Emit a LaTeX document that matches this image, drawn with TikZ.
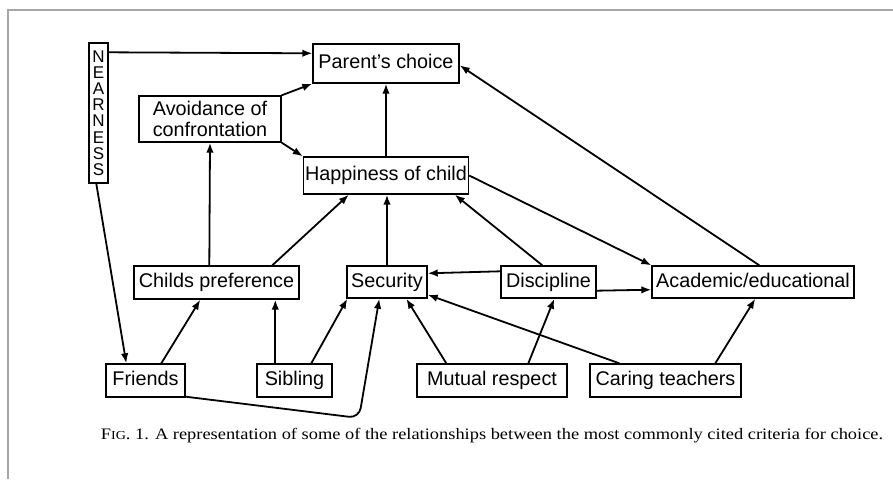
\documentclass[tikz,border=0pt]{standalone}
\usepackage{fontspec}
\setmainfont{Liberation Serif}
\newfontfamily\diagfont{Liberation Sans}
\usetikzlibrary{arrows.meta,calc}

\begin{document}
\begin{tikzpicture}[x=1pt,y=-1pt,
  box/.style={draw, line width=1.4pt, inner sep=0pt, align=center,
    font=\diagfont\fontsize{19.8}{21}\selectfont},
  oneline/.style={box, text height=14pt, text depth=4pt},
  link/.style={line width=1.8pt, -{Latex[length=10pt,width=7.5pt]}},
  frameline/.style={draw=black!35, line width=2pt}]
\useasboundingbox (0,0) rectangle (893,479);
\draw[frameline] (8,479) -- (8,10) -- (893,10);

% criteria boxes
\node[box, minimum width=19pt, minimum height=140pt,
  font=\diagfont\fontsize{17}{16.2}\selectfont] (near) at (98.5,113)
  {N\\E\\A\\R\\N\\E\\S\\S};
\node[oneline, minimum width=146pt, minimum height=39pt] (pc) at (386,63.5) {Parent’s choice};
\node[box, minimum width=142pt, minimum height=46pt] (av) at (210,119) {Avoidance of\\confrontation};
\node[oneline, minimum width=165pt, minimum height=37pt] (hc) at (386,175.5) {Happiness of child};
\node[oneline, minimum width=165pt, minimum height=33pt] (cp) at (216.5,282.5) {Childs preference};
\node[oneline, minimum width=80pt, minimum height=32pt] (sec) at (387,282) {Security};
\node[oneline, minimum width=95pt, minimum height=32pt] (dis) at (548.5,282) {Discipline};
\node[oneline, minimum width=202pt, minimum height=32pt] (ac) at (753,282) {Academic/educational};
\node[oneline, minimum width=79pt, minimum height=33pt] (fr) at (145.5,380.5) {Friends};
\node[oneline, minimum width=75pt, minimum height=33pt] (sib) at (294.5,380.5) {Sibling};
\node[oneline, minimum width=150pt, minimum height=33pt] (mr) at (492,380.5) {Mutual respect};
\node[oneline, minimum width=151pt, minimum height=33pt] (ct) at (665.5,380.5) {Caring teachers};

% influences
\draw[link] ($(near.north east)+(0,10)$) -- ($(pc.north west)+(0,10)$);
\draw[link] (av.north east) -- (pc.south west);
\draw[link] (av.south east) -- (hc.north west);
\draw[link] (hc.north) -- (hc.north |- pc.south);
\draw[link] ($(cp.north west)+(76,0)$) -- (av.south);
\draw[link] ($(cp.north west)+(139,0)$) -- ($(hc.south west)+(46,0)$);
\draw[link] (sec.north) -- (sec.north |- hc.south);
\draw[link] ($(dis.north west)+(42,0)$) -- ($(hc.south west)+(152,0)$);
\draw[link] (hc.east) -- (ac.north west);
\draw[link] ($(ac.north west)+(108,0)$) -- ($(pc.north east)+(0,22)$);
\draw[link] ($(dis.north west)+(0,6)$) -- ($(sec.north east)+(0,8)$);
\draw[link] ($(dis.south east)+(0,-8)$) -- ($(ac.south west)+(0,-9)$);
\draw[link] ($(ct.north west)+(30,0)$) -- ($(sec.south east)+(0,-4)$);
\draw[link] ($(ct.north west)+(126,0)$) -- ($(ac.south west)+(104,0)$);
\draw[link] ($(mr.north west)+(30,0)$) -- ($(sec.south west)+(60,0)$);
\draw[link] ($(mr.north west)+(112,0)$) -- ($(dis.south west)+(54,0)$);
\draw[link] ($(sib.north west)+(55,0)$) -- ($(sec.south west)+(1,0)$);
\draw[link] ($(sib.north west)+(19,0)$) -- ($(cp.south west)+(142,0)$);
\draw[link] ($(fr.north west)+(56,0)$) -- ($(cp.south west)+(67,0)$);
\draw[link] ($(near.south west)+(8,0)$) -- ($(fr.north west)+(21,0)$);
\coordinate (bend) at (359,418);
\draw[link, rounded corners=10pt] ($(fr.south east)+(0,-1)$) -- (bend) -- ($(sec.south west)+(33,0)$);

% caption
\node[font=\fontsize{16}{19}\selectfont, inner sep=0pt] (cap) at (492,436)
  {\scalebox{1.15}[1]{F{\fontsize{12.2}{14}\selectfont IG}. 1. A representation of some of the relationships between the most commonly cited criteria for choice.}};
\end{tikzpicture}
\end{document}
